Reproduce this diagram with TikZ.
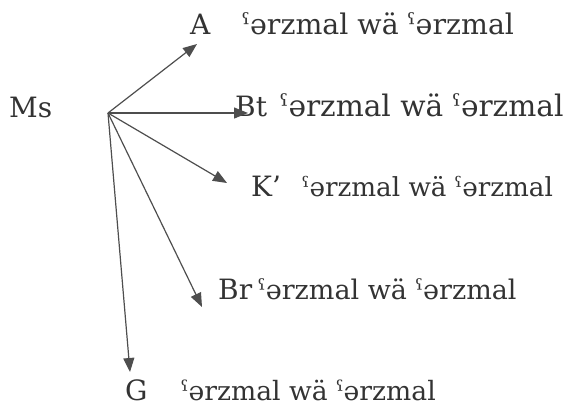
\documentclass[tikz,border=0pt]{standalone}
\usepackage{fontspec}
\setmainfont{DejaVu Serif}
\usetikzlibrary{arrows.meta}
\definecolor{ink}{HTML}{333333}
\definecolor{stroke}{HTML}{4E4E4E}
\tikzset{
  lbl/.style={anchor=base west, inner sep=0pt, text=ink, font=\fontsize{28}{32}\selectfont},
  gloss/.style={anchor=base west, inner sep=0pt, text=ink, font=\fontsize{#1}{32}\selectfont},
  ray/.style={draw=stroke, line width=1.2pt, -{Triangle[length=14pt,width=11pt]}}
}
\begin{document}
\begin{tikzpicture}[x=1pt,y=-1pt]
  \useasboundingbox (0,0) rectangle (569,410);
  % hub and arrow ends
  \coordinate (hub) at (108,113);
  \coordinate (tA) at (197,44);
  \coordinate (tBt) at (248,113);
  \coordinate (tK) at (227,183);
  \coordinate (tBr) at (202,307);
  \coordinate (tG) at (130,372);
  % labels
  \node[lbl] (ms) at (9,117) {Ms};
  \node[lbl] (a) at (190,34) {A};
  \node[gloss=28.4] (a-g) at (242,34) {ˤərzmal wä ˤərzmal};
  \node[lbl] (bt) at (235,116) {Bt};
  \node[gloss=29.6] (bt-g) at (280,116) {ˤərzmal wä ˤərzmal};
  \node[lbl] (k) at (251,196) {K’};
  \node[gloss=26.2] (k-g) at (302,196) {ˤərzmal wä ˤərzmal};
  \node[lbl] (br) at (218,299) {Br};
  \node[gloss=27] (br-g) at (258,299) {ˤərzmal wä ˤərzmal};
  \node[lbl] (g) at (125,400) {G};
  \node[gloss=26.6] (g-g) at (181,400) {ˤərzmal wä ˤərzmal};
  % rays
  \draw[ray] (hub) -- (tA);
  \draw[ray] (hub) -- (tBt);
  \draw[ray] (hub) -- (tK);
  \draw[ray] (hub) -- (tBr);
  \draw[ray] (hub) -- (tG);
\end{tikzpicture}
\end{document}
